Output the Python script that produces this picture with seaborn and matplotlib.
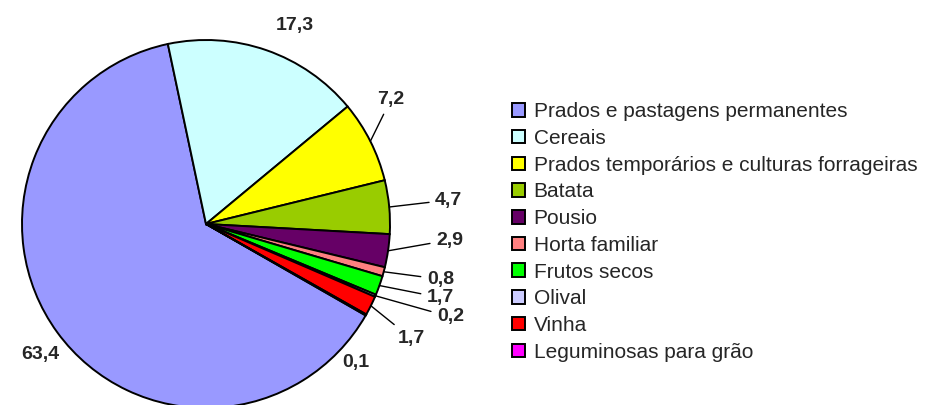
import numpy as np
import matplotlib
matplotlib.use('Agg')
import matplotlib.pyplot as plt
import seaborn as sns

# data
categories = ['Prados e pastagens permanentes', 'Cereais',
              'Prados temporários e culturas forrageiras', 'Batata', 'Pousio',
              'Horta familiar', 'Frutos secos', 'Olival', 'Vinha',
              'Leguminosas para grão']
values = [63.4, 17.3, 7.2, 4.7, 2.9, 0.8, 1.7, 0.2, 1.7, 0.1]
colors = ['#9999FF', '#CCFFFF', '#FFFF00', '#99CC00', '#660066',
          '#FF8080', '#00FF00', '#CCCCFF', '#FF0000', '#FF00FF']

# label placement in pie-radius units (text anchor), and whether a leader line is drawn
label_pos = [(-0.90, -0.71), (0.48, 1.08), (0.93, 0.674), (1.245, 0.13),
             (1.25, -0.087), (1.20, -0.30), (1.20, -0.40), (1.255, -0.505),
             (1.04, -0.62), (0.815, -0.755)]
leader = [False, False, True, True, True, True, True, True, True, False]

sns.set_theme(style='white')
plt.rcParams['font.family'] = ['Liberation Sans', 'DejaVu Sans']

fig = plt.figure(figsize=(9.28, 4.05), dpi=100)
ax = fig.add_axes([22 / 928, -3 / 405, 368 / 928, 368 / 405])

wedges, _ = ax.pie(values, colors=colors, startangle=330.2, counterclock=False,
                   wedgeprops=dict(edgecolor='black', linewidth=1.4))
ax.set_xlim(-1, 1)
ax.set_ylim(-1, 1)
ax.axis('off')

for w, v, (tx, ty), has_line in zip(wedges, values, label_pos, leader):
    txt = f'{v:.1f}'.replace('.', ',')
    if has_line:
        mid = np.deg2rad((w.theta1 + w.theta2) / 2)
        ax.annotate(txt, xy=(np.cos(mid), np.sin(mid)), xytext=(tx, ty),
                    ha='left', va='center', fontsize=14, fontweight='bold',
                    arrowprops=dict(arrowstyle='-', color='black', lw=1,
                                    shrinkA=2, shrinkB=0))
    else:
        ax.text(tx, ty, txt, ha='center', va='center', fontsize=14,
                fontweight='bold')

fig.legend(wedges, categories, loc='center left',
           bbox_to_anchor=(504 / 928, (405 - 232) / 405),
           frameon=False, fontsize=15, handlelength=0.62, handleheight=0.62,
           handletextpad=0.4, labelspacing=0.37, borderaxespad=0)

fig.savefig('out.png', dpi=100)
